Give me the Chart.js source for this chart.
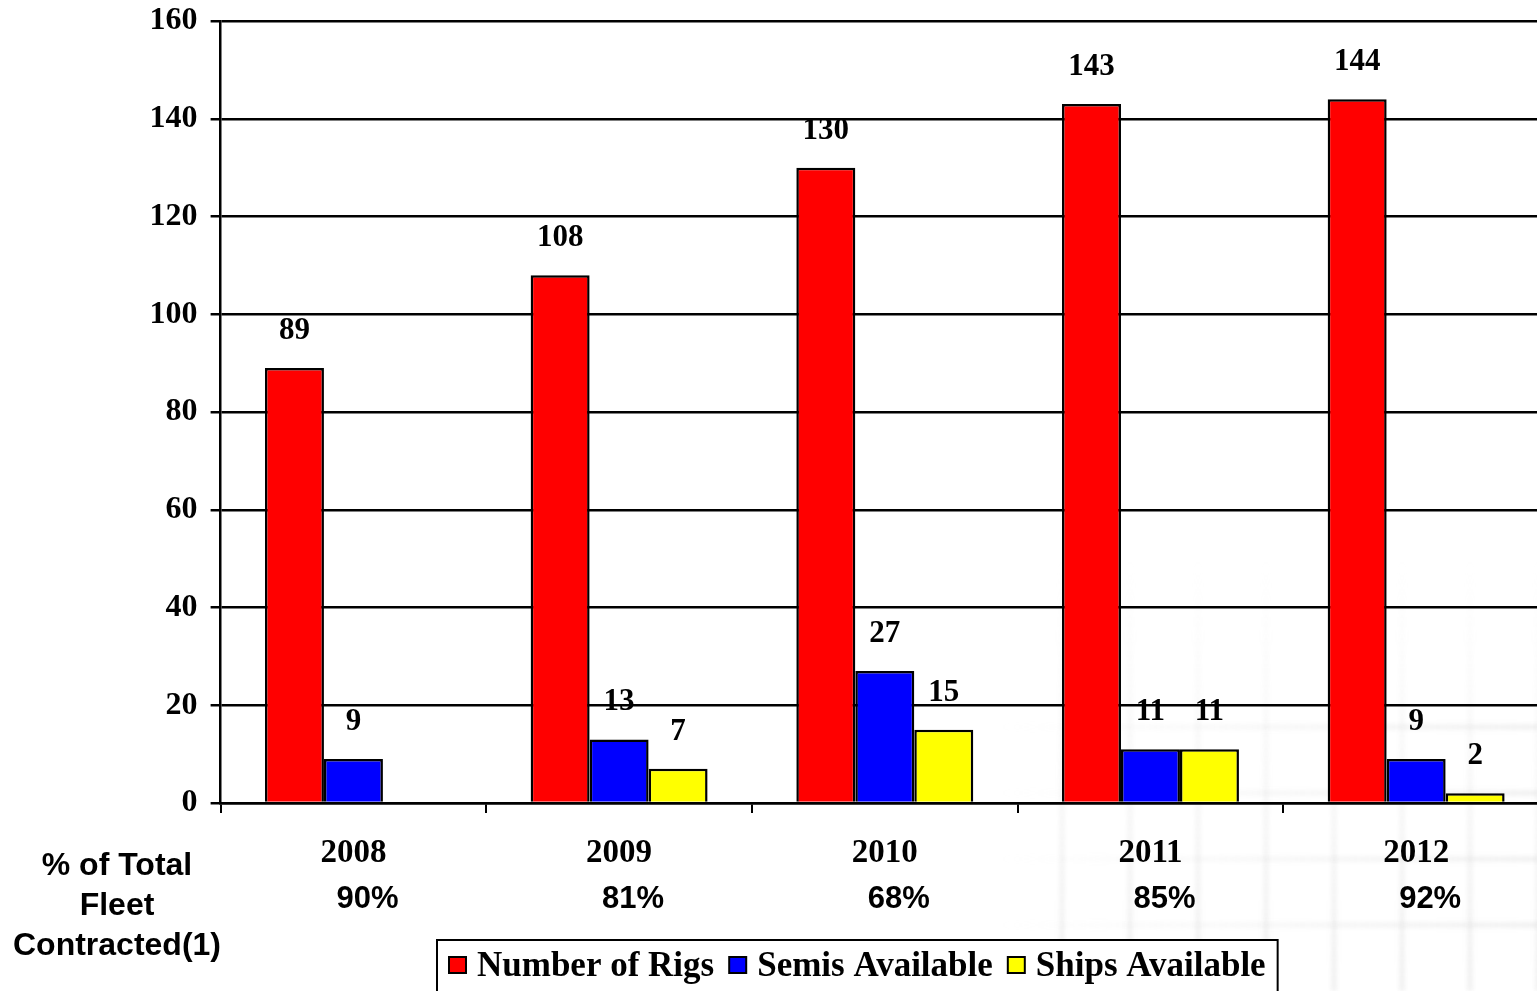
<!DOCTYPE html>
<html>
<head>
<meta charset="utf-8">
<title>Rig fleet</title>
<script src="https://cdn.jsdelivr.net/npm/chart.js@4.4.1/dist/chart.umd.min.js"></script>
<style>
  html, body { margin: 0; padding: 0; background: #fff; overflow: hidden; }
  canvas { display: block; }
</style>
</head>
<body>
<canvas id="rigs" width="1552" height="991"></canvas>
<script>
const years = ['2008', '2009', '2010', '2011', '2012'];
const numberOfRigs = [89, 108, 130, 143, 144];
const semisAvailable = [9, 13, 27, 11, 9];
const shipsAvailable = [null, 7, 15, 11, 2];
const fleetContracted = ['90%', '81%', '68%', '85%', '92%'];
const yTicks = { min: 0, max: 160, step: 20 };

const serif = '"Liberation Serif", "Times New Roman", serif';
const sans = '"Liberation Sans", Arial, sans-serif';

// faint tiled backdrop in the lower right corner
const backdrop = {
    id: 'backdrop',
    beforeDraw(chart) {
        const ctx = chart.ctx;
        ctx.save();
        ctx.fillStyle = '#fff';
        ctx.fillRect(0, 0, chart.width, chart.height);
        ctx.filter = 'blur(2px)';
        ctx.lineWidth = 5;
        for (let x = 1062; x < chart.width; x += 68) {
            const g = ctx.createLinearGradient(0, 560, 0, chart.height);
            g.addColorStop(0, 'rgba(215,215,215,0)');
            g.addColorStop(1, 'rgba(215,215,215,0.4)');
            ctx.strokeStyle = g;
            ctx.beginPath();
            ctx.moveTo(x, 560);
            ctx.lineTo(x, chart.height);
            ctx.stroke();
        }
        for (let y = 727; y < chart.height; y += 66) {
            const g = ctx.createLinearGradient(1000, 0, chart.width, 0);
            g.addColorStop(0, 'rgba(215,215,215,0)');
            g.addColorStop(1, 'rgba(215,215,215,0.4)');
            ctx.strokeStyle = g;
            ctx.beginPath();
            ctx.moveTo(1000, y);
            ctx.lineTo(chart.width, y);
            ctx.stroke();
        }
        ctx.restore();
    }
};

// numbers over each bar
const barValues = {
    id: 'barValues',
    afterDatasetsDraw(chart) {
        const ctx = chart.ctx;
        ctx.save();
        ctx.font = 'bold 31px ' + serif;
        ctx.fillStyle = '#000';
        ctx.textAlign = 'center';
        ctx.textBaseline = 'middle';
        chart.data.datasets.forEach((ds, i) => {
            chart.getDatasetMeta(i).data.forEach((bar, j) => {
                const v = ds.data[j];
                if (v === null || v === undefined) return;
                ctx.fillText(String(v), bar.x, bar.y - 37);
            });
        });
        ctx.restore();
    }
};

// contracted row, its caption and the boxed legend under the axis
const footer = {
    id: 'footer',
    afterDraw(chart) {
        const ctx = chart.ctx;
        const x = chart.scales.x;
        ctx.save();
        ctx.fillStyle = '#000';
        ctx.textAlign = 'center';
        ctx.textBaseline = 'middle';

        ctx.font = 'bold 31px ' + sans;
        fleetContracted.forEach((p, i) => {
            ctx.fillText(p, x.getPixelForValue(i) + 14, 899);
        });

        ctx.font = 'bold 32px ' + sans;
        ['% of Total', 'Fleet', 'Contracted(1)'].forEach((t, i) => {
            ctx.fillText(t, 117, 866 + i * 40);
        });

        // legend
        ctx.font = 'bold 35px ' + serif;
        const box = 17, gapBox = 11, gapItem = 15, pad = 12;
        const items = chart.data.datasets.map(ds => ({
            label: ds.label,
            color: ds.backgroundColor,
            w: ctx.measureText(ds.label).width
        }));
        let total = pad * 2 - gapItem;
        items.forEach(it => { total += box + gapBox + it.w + gapItem; });
        const left = Math.round(857 - total / 2);
        ctx.lineWidth = 2;
        ctx.strokeStyle = '#000';
        ctx.fillStyle = '#fff';
        ctx.fillRect(left, 940, total, 70);
        ctx.strokeRect(left, 940, total, 70);

        let cx = left + pad;
        ctx.textAlign = 'left';
        ctx.textBaseline = 'alphabetic';
        items.forEach(it => {
            ctx.fillStyle = it.color;
            ctx.fillRect(cx, 957, box, 16);
            ctx.lineWidth = 2;
            ctx.strokeRect(cx, 957, box, 16);
            cx += box + gapBox;
            ctx.fillStyle = '#000';
            ctx.fillText(it.label, cx, 976);
            cx += it.w + gapItem;
        });
        ctx.restore();
    }
};

new Chart(document.getElementById('rigs').getContext('2d'), {
    type: 'bar',
    data: {
        labels: years,
        datasets: [
            { label: 'Number of Rigs', data: numberOfRigs, backgroundColor: '#ff0000' },
            { label: 'Semis Available', data: semisAvailable, backgroundColor: '#0000ff' },
            { label: 'Ships Available', data: shipsAvailable, backgroundColor: '#ffff00' }
        ]
    },
    options: {
        responsive: false,
        animation: false,
        layout: { padding: { top: 21, right: 3, bottom: 0, left: 0 } },
        datasets: {
            bar: {
                categoryPercentage: 0.666,
                barPercentage: 1,
                borderColor: '#000',
                borderWidth: 2.5
            }
        },
        plugins: {
            legend: { display: false },
            tooltip: { enabled: false }
        },
        scales: {
            x: {
                afterFit(scale) {
                    scale.height = 188;
                    scale.paddingLeft = 0;
                    scale.paddingRight = 0;
                },
                grid: {
                    offset: true,
                    drawOnChartArea: false,
                    drawTicks: true,
                    tickLength: 10,
                    color: '#000',
                    lineWidth: 2
                },
                border: { display: true, color: '#000', width: 2.5 },
                ticks: {
                    color: '#000',
                    padding: 21,
                    maxRotation: 0,
                    font: { family: serif, size: 33, weight: 'bold' }
                }
            },
            y: {
                min: yTicks.min,
                max: yTicks.max,
                afterFit(scale) {
                    scale.width = 220.6;
                    scale.paddingTop = 0;
                    scale.paddingBottom = 0;
                },
                grid: {
                    color: '#000',
                    lineWidth: 2.5,
                    drawTicks: true,
                    tickLength: 10
                },
                border: { display: true, color: '#000', width: 2.5 },
                ticks: {
                    stepSize: yTicks.step,
                    color: '#000',
                    padding: 13,
                    font: { family: serif, size: 32, weight: 'bold' }
                }
            }
        }
    },
    plugins: [backdrop, barValues, footer]
});
</script>
</body>
</html>
